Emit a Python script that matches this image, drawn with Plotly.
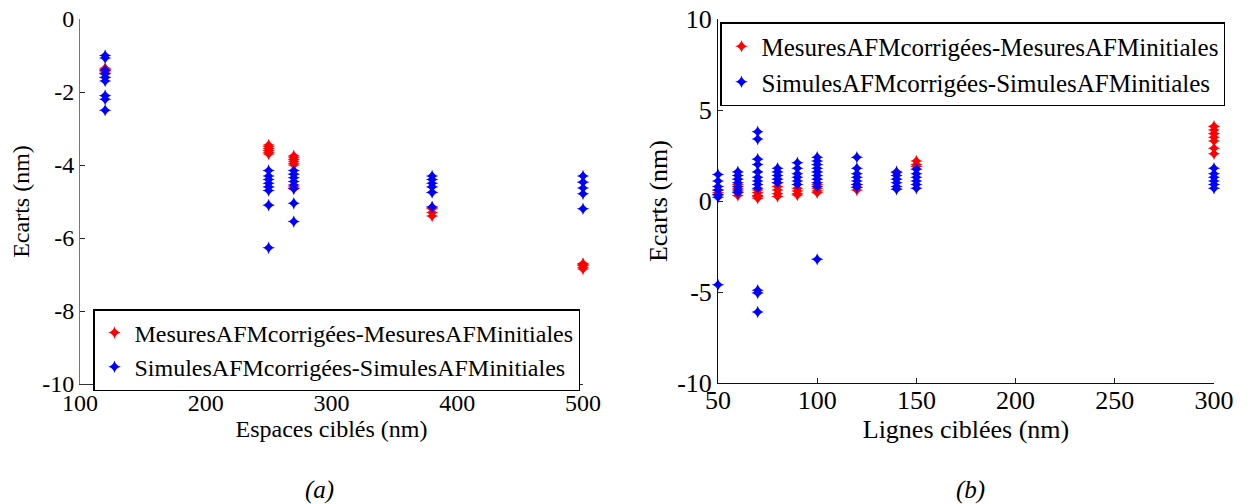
import plotly.graph_objects as go

# ---------- (a) Espaces ciblés ----------
espaces = [120, 250, 270, 380, 500]
mes_a_120 = [-1.35, -1.4, -1.45, -1.5, -1.42]
mes_a_250 = [-3.45, -3.5, -3.55, -3.6, -3.65, -3.7]
mes_a_270 = [-3.75, -3.8, -3.85, -3.9, -3.95, -4.0, -4.6, -4.65]
mes_a_380 = [-5.15, -5.2, -5.3, -5.4]
mes_a_500 = [-6.7, -6.75, -6.8, -6.85, -6.72]

sim_a_120 = [-1.0, -1.07, -1.4, -1.5, -1.6, -1.7, -2.1, -2.2, -2.5]
sim_a_250 = [-4.15, -4.3, -4.4, -4.5, -4.6, -4.7, -5.1, -6.27]
sim_a_270 = [-4.15, -4.25, -4.35, -4.45, -4.55, -4.65, -5.05, -5.55]
sim_a_380 = [-4.3, -4.4, -4.5, -4.6, -4.75, -5.15]
sim_a_500 = [-4.3, -4.47, -4.63, -4.79, -5.2]

mes_a = [mes_a_120, mes_a_250, mes_a_270, mes_a_380, mes_a_500]
sim_a = [sim_a_120, sim_a_250, sim_a_270, sim_a_380, sim_a_500]

xticks_a = [100, 200, 300, 400, 500]
yticks_a = [0, -2, -4, -6, -8, -10]

# ---------- (b) Lignes ciblées ----------
lignes = [50, 60, 70, 80, 90, 100, 120, 140, 150, 300]
mes_b_50 = [0.6, 0.45, 0.33]
mes_b_60 = [0.9, 0.7, 0.5, 0.3]
mes_b_70 = [0.6, 0.45, 0.3, 0.15, 0.25]
mes_b_80 = [1.0, 0.8, 0.6, 0.4, 0.25]
mes_b_90 = [0.7, 0.55, 0.4, 0.33]
mes_b_100 = [0.9, 0.7, 0.55, 0.45]
mes_b_120 = [0.9, 0.75, 0.6]
mes_b_140 = [1.55]
mes_b_150 = [2.2, 2.0, 1.9]
mes_b_300 = [4.1, 3.9, 3.7, 3.5, 3.3, 2.9, 2.6]

sim_b_50 = [1.45, 1.1, 0.8, 0.6, 0.35, 0.2, -4.6]
sim_b_60 = [1.6, 1.4, 1.2, 1.0, 0.8, 0.6, 0.45]
sim_b_70 = [3.8, 3.4, 2.3, 2.0, 1.6, 1.3, 1.1, 0.9, 0.7, -4.9, -5.05, -6.1]
sim_b_80 = [1.8, 1.6, 1.4, 1.2, 1.0]
sim_b_90 = [2.1, 1.8, 1.5, 1.3, 1.1, 0.9]
sim_b_100 = [2.4, 2.2, 2.0, 1.8, 1.6, 1.4, 1.2, 1.0, 0.8, -3.2]
sim_b_120 = [2.4, 1.8, 1.5, 1.3, 1.1, 0.9, 0.75]
sim_b_140 = [1.6, 1.4, 1.2, 1.0, 0.8, 0.65]
sim_b_150 = [1.75, 1.5, 1.3, 1.1, 0.9, 0.7]
sim_b_300 = [1.8, 1.5, 1.3, 1.1, 0.9, 0.7]

mes_b = [mes_b_50, mes_b_60, mes_b_70, mes_b_80, mes_b_90, mes_b_100,
         mes_b_120, mes_b_140, mes_b_150, mes_b_300]
sim_b = [sim_b_50, sim_b_60, sim_b_70, sim_b_80, sim_b_90, sim_b_100,
         sim_b_120, sim_b_140, sim_b_150, sim_b_300]

xticks_b = [50, 100, 150, 200, 250, 300]
yticks_b = [10, 5, 0, -5, -10]

name_mes = "MesuresAFMcorrigées-MesuresAFMinitiales"
name_sim = "SimulesAFMcorrigées-SimulesAFMinitiales"


def flatten(cats, groups):
    xs, ys = [], []
    for c, g in zip(cats, groups):
        xs += [c] * len(g)
        ys += list(g)
    return xs, ys


def labels(vals):
    return [str(v) for v in vals]  # plain hyphen minus as in the original


W, H = 1240, 496   # page body has an 8px margin


def px(x):
    return (x - 8) / W


def py(y):
    return 1 - (y - 8) / H


FONT = "serif"
RED = "#ff0000"
BLUE = "#0000ff"
marker_kw = dict(symbol="star-diamond", size=9, line=dict(width=0))

fig = go.Figure()
for cats, groups, nm, col, xa, ya, lg in [
    (espaces, mes_a, name_mes, RED, "x", "y", "legend"),
    (espaces, sim_a, name_sim, BLUE, "x", "y", "legend"),
    (lignes, mes_b, name_mes, RED, "x2", "y2", "legend2"),
    (lignes, sim_b, name_sim, BLUE, "x2", "y2", "legend2"),
]:
    xs, ys = flatten(cats, groups)
    fig.add_trace(go.Scatter(x=xs, y=ys, mode="markers", name=nm,
                             marker=dict(color=col, **marker_kw),
                             xaxis=xa, yaxis=ya, legend=lg, cliponaxis=False))

axis_common = dict(showline=True, linewidth=1,
                   ticks="inside", ticklen=5, tickcolor="#222222",
                   showgrid=False, zeroline=False, automargin=False,
                   ticklabeloverflow="allow", mirror=False)
fa = dict(family=FONT, size=24, color="black")   # panel (a)
fb = dict(family=FONT, size=26, color="black")   # panel (b)

fig.update_layout(
    width=W, height=H,
    margin=dict(l=0, r=0, t=0, b=0, autoexpand=False),
    paper_bgcolor="white", plot_bgcolor="white",
    font=dict(family=FONT, color="black"),
    xaxis=dict(domain=[px(80), px(583)], range=[100, 500],
               tickvals=xticks_a, ticktext=labels(xticks_a), anchor="y",
               tickfont=fa, linecolor="#333333", ticklabelstandoff=-3,
               title=dict(text="Espaces ciblés (nm)", font=fa, standoff=2),
               **axis_common),
    yaxis=dict(domain=[py(384), py(19)], range=[-10, 0],
               tickvals=yticks_a, ticktext=labels(yticks_a), anchor="x",
               tickfont=fa, linecolor="#777777",
               title=dict(text="Ecarts (nm)", font=fa, standoff=6),
               **axis_common),
    xaxis2=dict(domain=[px(718), px(1214)], range=[50, 300],
                tickvals=xticks_b, ticktext=labels(xticks_b), anchor="y2",
                tickfont=fb, linecolor="#111111", ticklabelstandoff=-6,
                title=dict(text="Lignes ciblées (nm)", font=fb, standoff=0),
                **axis_common),
    yaxis2=dict(domain=[py(383), py(19)], range=[-10, 10],
                tickvals=yticks_b, ticktext=labels(yticks_b), anchor="x2",
                tickfont=fb, linecolor="#111111",
                title=dict(text="Ecarts (nm)", font=fb, standoff=2),
                **axis_common),
    legend=dict(x=px(93), y=py(309), xanchor="left", yanchor="top",
                bgcolor="white", bordercolor="black", borderwidth=1.5,
                font=dict(family=FONT, size=24, color="black"),
                tracegroupgap=0, itemwidth=30),
    legend2=dict(x=px(720), y=py(22), xanchor="left", yanchor="top",
                 bgcolor="white", bordercolor="black", borderwidth=1.5,
                 font=dict(family=FONT, size=25, color="black"),
                 tracegroupgap=0, itemwidth=30),
    showlegend=True,
    annotations=[
        dict(text="<i>(a)</i>", x=px(320), y=py(490), xref="paper", yref="paper",
             xanchor="center", yanchor="middle",
             showarrow=False, font=dict(family=FONT, size=25, color="black")),
        dict(text="<i>(b)</i>", x=px(970), y=py(490), xref="paper", yref="paper",
             xanchor="center", yanchor="middle",
             showarrow=False, font=dict(family=FONT, size=25, color="black")),
    ],
)

fig.write_html("out.html")
